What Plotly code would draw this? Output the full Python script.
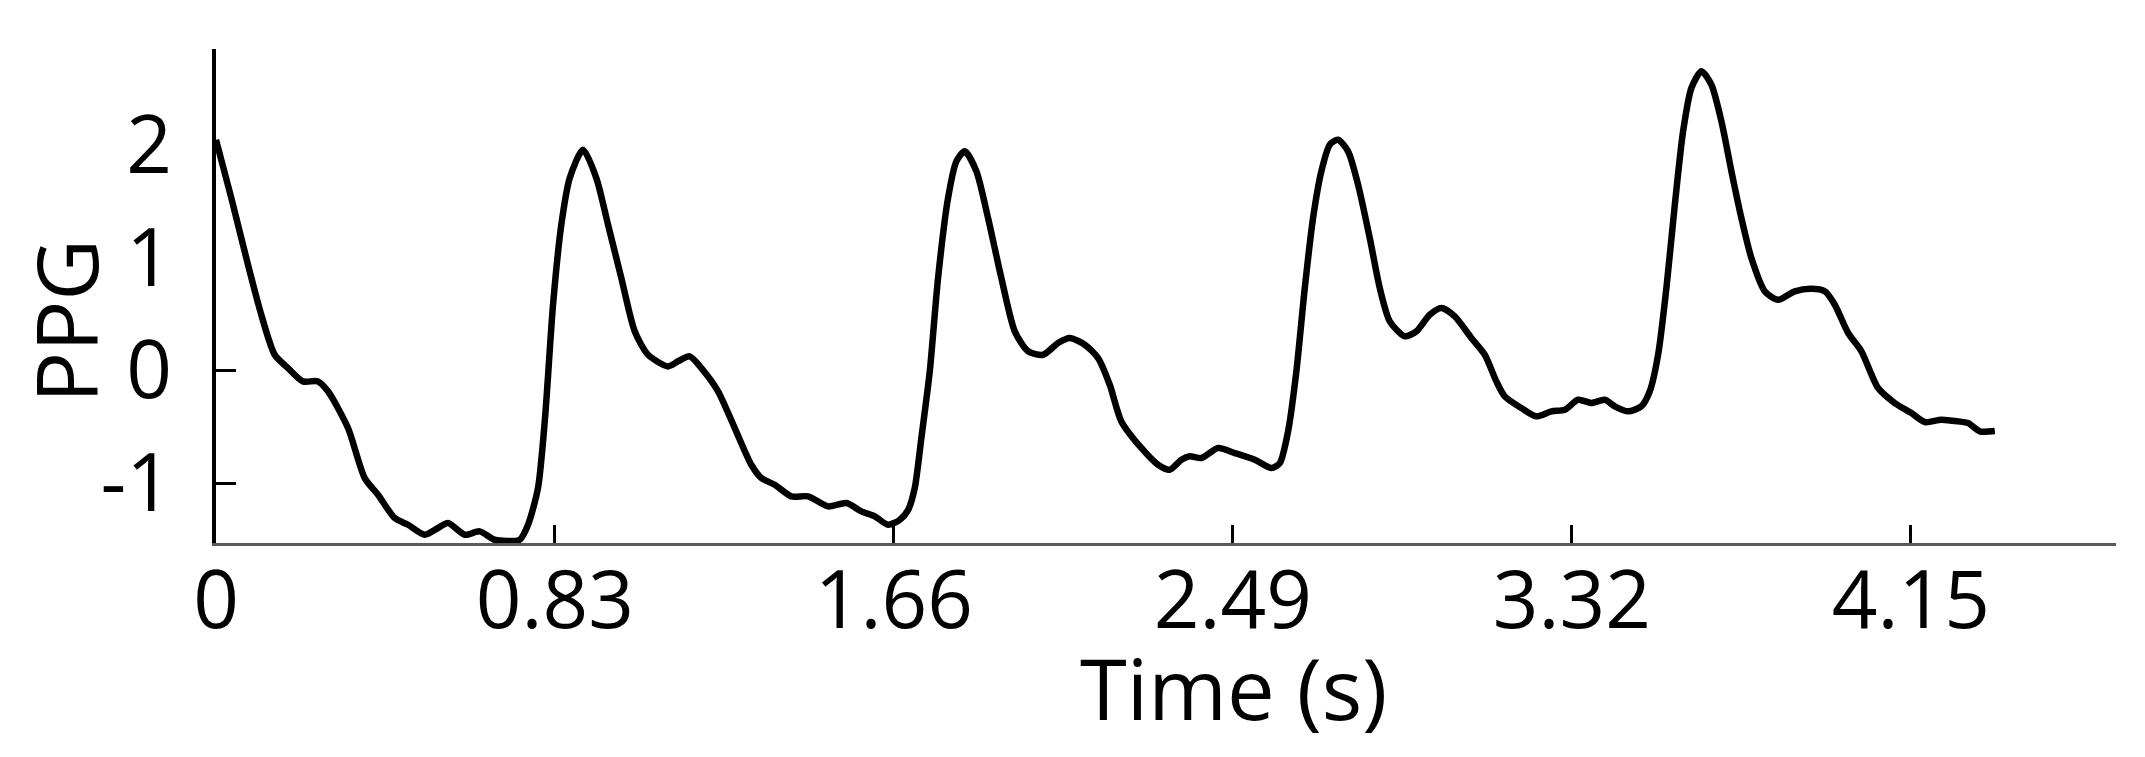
import plotly.graph_objects as go

# PPG trace (time in s, amplitude)
time_s = [0.000, 0.0375, 0.0742, 0.1109, 0.1437, 0.1763, 0.2130, 0.2498, 0.2742, 0.3232,
          0.3641, 0.3967, 0.4376, 0.4701, 0.5110, 0.5436, 0.5681, 0.6090, 0.6457, 0.6824,
          0.7436, 0.7640, 0.7884, 0.8056, 0.8252, 0.8455, 0.8661, 0.8986, 0.9312, 0.9599,
          0.9924, 1.0252, 1.0578, 1.1068, 1.1313, 1.1599, 1.1883, 1.2292, 1.2701, 1.3107,
          1.3352, 1.3680, 1.4087, 1.4496, 1.4985, 1.5434, 1.5801, 1.6129, 1.6455, 1.6741,
          1.6944, 1.7108, 1.7270, 1.7476, 1.7679, 1.7924, 1.8127, 1.8333, 1.8617, 1.8903,
          1.9229, 1.9557, 1.9882, 2.0250, 2.0617, 2.0904, 2.1271, 2.1597, 2.1883, 2.2167,
          2.2657, 2.3066, 2.3352, 2.3637, 2.3842, 2.4126, 2.4535, 2.4944, 2.5433, 2.5840,
          2.6046, 2.6249, 2.6452, 2.6658, 2.6861, 2.7064, 2.7270, 2.7473, 2.7718, 2.7963,
          2.8249, 2.8494, 2.8739, 2.9106, 2.9390, 2.9718, 3.0002, 3.0330, 3.0737, 3.1065,
          3.1349, 3.1555, 3.1961, 3.2329, 3.2696, 3.3024, 3.3350, 3.3675, 3.4003, 3.4248,
          3.4574, 3.4900, 3.5105, 3.5309, 3.5512, 3.5718, 3.5921, 3.6124, 3.6369, 3.6614,
          3.6859, 3.7104, 3.7348, 3.7593, 3.7921, 3.8247, 3.8656, 3.9063, 3.9390, 3.9635,
          3.9961, 4.0287, 4.0696, 4.1104, 4.1511, 4.1839, 4.2246, 4.2654, 4.2899, 4.3185,
          4.3553]
ppg = [2.046, 1.529, 0.996, 0.493, 0.138, 0.020, -0.098, -0.098, -0.186, -0.512,
       -0.956, -1.104, -1.311, -1.370, -1.459, -1.399, -1.355, -1.459, -1.429, -1.503,
       -1.503, -1.370, -1.044, -0.423, 0.582, 1.292, 1.706, 1.957, 1.706, 1.292,
       0.819, 0.346, 0.138, 0.035, 0.080, 0.124, 0.020, -0.186, -0.512, -0.838,
       -0.956, -1.015, -1.118, -1.118, -1.207, -1.177, -1.251, -1.295, -1.370, -1.326,
       -1.240, -1.044, -0.601, -0.009, 0.819, 1.529, 1.854, 1.943, 1.766, 1.351,
       0.819, 0.346, 0.169, 0.138, 0.242, 0.287, 0.227, 0.109, -0.128, -0.453,
       -0.689, -0.838, -0.882, -0.793, -0.763, -0.778, -0.689, -0.734, -0.793, -0.867,
       -0.823, -0.541, -0.009, 0.730, 1.351, 1.766, 2.002, 2.046, 1.943, 1.647,
       1.174, 0.730, 0.435, 0.302, 0.346, 0.493, 0.553, 0.479, 0.287, 0.138,
       -0.098, -0.231, -0.335, -0.408, -0.364, -0.350, -0.261, -0.290, -0.261, -0.319,
       -0.364, -0.319, -0.186, 0.138, 0.730, 1.469, 2.121, 2.505, 2.653, 2.534,
       2.209, 1.766, 1.351, 0.996, 0.701, 0.626, 0.701, 0.724, 0.701, 0.582,
       0.331, 0.169, -0.157, -0.290, -0.379, -0.459, -0.438, -0.453, -0.468, -0.541,
       -0.538]

x_tick_vals = [0, 0.83, 1.66, 2.49, 3.32, 4.15]
x_tick_text = ["0", "0.83", "1.66", "2.49", "3.32", "4.15"]
y_tick_vals = [-1, 0, 1, 2]
y_tick_text = ["-1", "0", "1", "2"]
y_marked_ticks = [-1, 0]

x_range = [0, 4.652]
y_range = [-1.532, 2.851]

FONT = "Open Sans"

fig = go.Figure()
fig.add_trace(go.Scatter(
    x=time_s, y=ppg, mode="lines",
    line=dict(color="black", width=6.5, shape="spline", smoothing=0.7),
    showlegend=False, hoverinfo="skip", cliponaxis=True,
))
# helper trace so the overlay axis carrying the short ticks is drawn
fig.add_trace(go.Scatter(x=[None], y=[None], yaxis="y2", showlegend=False,
                         hoverinfo="skip", mode="lines"))

fig.update_layout(
    width=2145, height=757,
    margin=dict(l=208, r=37, t=41, b=222),
    paper_bgcolor="white", plot_bgcolor="white",
    font=dict(family=FONT, color="black"),
    xaxis=dict(
        range=x_range, tickvals=x_tick_vals, ticktext=x_tick_text,
        ticks="inside", ticklen=18, tickwidth=3, tickcolor="black",
        showline=True, linecolor="#5a5a5a", linewidth=3,
        showgrid=False, zeroline=False,
        tickfont=dict(family=FONT, size=80, color="black"),
        ticklabelstandoff=-14,
    ),
    yaxis=dict(
        range=y_range, tickvals=y_tick_vals, ticktext=y_tick_text,
        ticks="", showline=True, linecolor="black", linewidth=4,
        showgrid=False, zeroline=False,
        tickfont=dict(family=FONT, size=80, color="black"),
        ticklabelstandoff=24,
    ),
    yaxis2=dict(
        range=y_range, overlaying="y", side="left", tickvals=y_marked_ticks,
        ticks="inside", ticklen=20, tickwidth=3, tickcolor="black",
        showticklabels=False, showline=False, showgrid=False, zeroline=False,
    ),
    annotations=[
        dict(text="Time (s)", xref="paper", yref="paper", x=(1225 - 208) / 1900,
             y=(757 - 222 - 679) / 494, xanchor="center", yanchor="middle",
             showarrow=False, font=dict(family=FONT, size=85, color="black")),
        dict(text="PPG", xref="paper", yref="paper", x=(57 - 208) / 1900,
             y=(757 - 222 - 313) / 494, xanchor="center", yanchor="middle",
             textangle=-90, showarrow=False,
             font=dict(family=FONT, size=85, color="black")),
    ],
)

fig.write_html("out.html")
